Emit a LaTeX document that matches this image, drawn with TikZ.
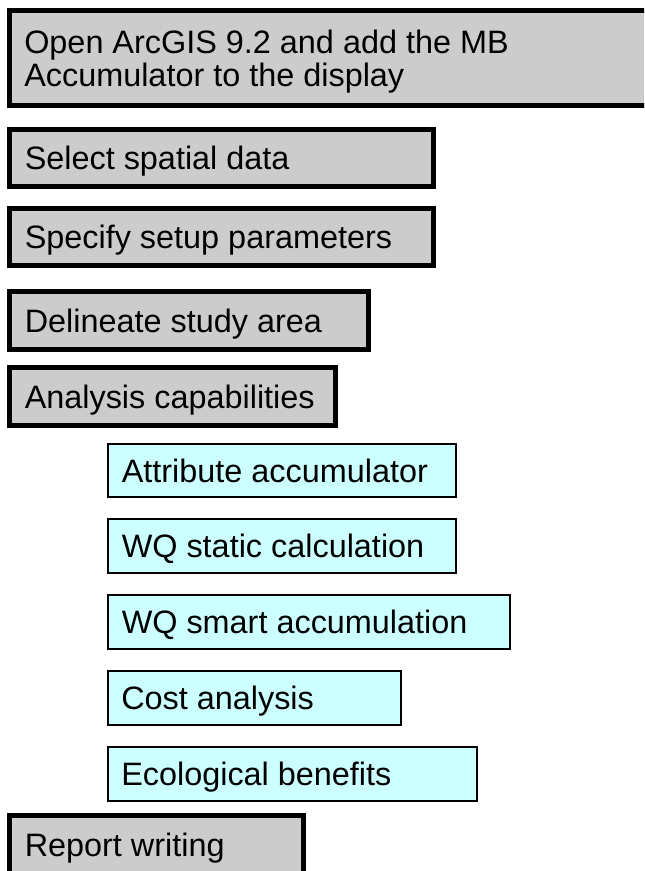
\documentclass[tikz,border=0pt]{standalone}
\usepackage{fontspec}
\setmainfont{Liberation Sans}
\usetikzlibrary{fit}
\definecolor{stepgray}{HTML}{CCCCCC}
\definecolor{subcyan}{HTML}{CCFFFF}
\tikzset{
  mainbox/.style={draw=black, fill=stepgray, line width=3.75pt, inner sep=0pt, rectangle},
  subbox/.style={draw=black, fill=subcyan, line width=1.5pt, inner sep=0pt, rectangle},
  label text/.style={anchor=base west, inner sep=0pt, font=\fontsize{24.3}{29}\selectfont, text=black},
}
\begin{document}
\begin{tikzpicture}[x=0.75pt,y=-0.75pt]
  \clip (0,0) rectangle (644,871);
  \fill[white] (0,0) rectangle (644,871);

  % main workflow steps (thick grey boxes)
  \node[mainbox, fit={(9.5,10.5) (700,105.5)}] (open) {};
  \node[label text] (openA) at (24,53.3) {Open ArcGIS 9.2 and add the MB};
  \node[label text] (openB) at (24,86) {Accumulator to the display};

  \node[mainbox, fit={(9.5,129.5) (433.5,186.5)}] (select) {};
  \node[label text] (selectT) at (24.5,169.6) {Select spatial data};

  \node[mainbox, fit={(9.5,208.5) (433.5,265.5)}] (setup) {};
  \node[label text] (setupT) at (24.5,248.6) {Specify setup parameters};

  \node[mainbox, fit={(9.5,291.5) (368.5,349.5)}] (delin) {};
  \node[label text] (delinT) at (24.5,332) {Delineate study area};

  \node[mainbox, fit={(9.5,367.5) (335.5,425.5)}] (analysis) {};
  \node[label text] (analysisT) at (24.5,408) {Analysis capabilities};

  % analysis capabilities (thin cyan boxes)
  \node[subbox, fit={(108,444) (456,497)}] (attr) {};
  \node[label text] (attrT) at (121.5,482) {Attribute accumulator};

  \node[subbox, fit={(108,519) (456,573)}] (static) {};
  \node[label text] (staticT) at (121.5,557.6) {WQ static calculation};

  \node[subbox, fit={(108,595) (510,649)}] (smart) {};
  \node[label text] (smartT) at (121.5,633.6) {WQ smart accumulation};

  \node[subbox, fit={(108,671) (401,725)}] (cost) {};
  \node[label text] (costT) at (121,709.6) {Cost analysis};

  \node[subbox, fit={(108,747) (477,801)}] (eco) {};
  \node[label text] (ecoT) at (121,785.6) {Ecological benefits};

  % final step
  \node[mainbox, fit={(9.5,815.5) (303.5,900)}] (report) {};
  \node[label text] (reportT) at (24.5,856) {Report writing};
\end{tikzpicture}
\end{document}
